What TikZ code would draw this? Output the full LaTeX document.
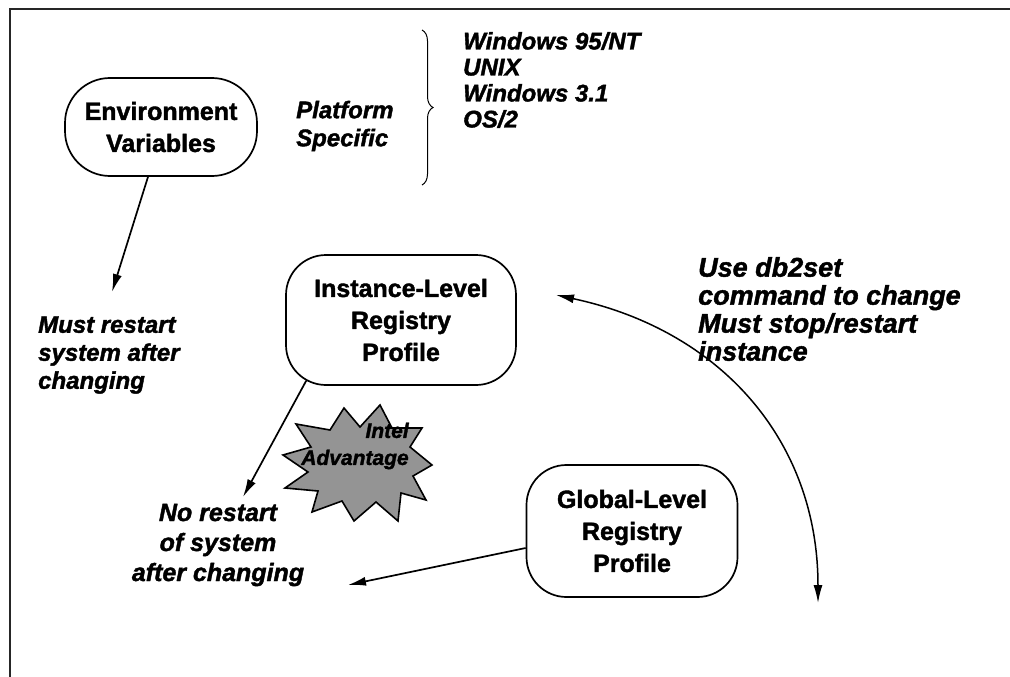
\documentclass[tikz,border=0pt]{standalone}
\usepackage{fontspec}
\setmainfont{Liberation Sans}[BoldFeatures={FakeBold=1.6},BoldItalicFeatures={FakeBold=1.6}]
\usetikzlibrary{arrows.meta,decorations.pathreplacing}
\newcommand{\bxfont}{\fontsize{25}{32}\selectfont\bfseries}
\newcommand{\itfont}{\fontsize{24}{28}\selectfont\bfseries\itshape}
\begin{document}
\begin{tikzpicture}[x=1pt,y=-1pt,
  bx/.style={draw, line width=1.7pt, rounded corners=40pt, align=center, font=\bxfont, inner sep=0pt},
  lbl/.style={font=\itfont, inner sep=0pt},
  arr/.style={line width=1.7pt, -{Latex[length=18pt,width=9pt]}},
  dbl/.style={line width=1.5pt, {Latex[length=18pt,width=9pt]}-{Latex[length=18pt,width=9pt]}}]
\useasboundingbox (0,0) rectangle (1010,677);
% frame
\draw[line width=2pt, black!85] (10,677) -- (10,9) -- (1010,9);
% boxes
\node[bx, minimum width=192pt, minimum height=98pt, rounded corners=45pt] (env) at (161,127) {Environment\\Variables};
\node[bx, minimum width=230pt, minimum height=130pt] (inst) at (401,320) {Instance-Level\\Registry\\Profile};
\node[bx, minimum width=211pt, minimum height=132pt] (glob) at (632,531) {Global-Level\\Registry\\Profile};
% labels
\node[lbl, anchor=west, align=left] (plat) at (296,126) {Platform\\Specific};
\draw[line width=1pt, decorate, decoration={brace, amplitude=11pt}] (422,30) -- (422,185);
\node[lbl, anchor=west, align=left, font=\fontsize{24}{26}\selectfont\bfseries\itshape] (list) at (463,80) {Windows 95/NT\\UNIX\\Windows 3.1\\OS/2};
\node[lbl, anchor=west, align=left] (must) at (38,355) {Must restart\\system after\\changing};
\node[lbl, align=center, font=\fontsize{25}{30}\selectfont\bfseries\itshape] (norest) at (218,545) {No restart\\of system\\after changing};
\node[lbl, anchor=west, align=left, font=\fontsize{27}{28}\selectfont\bfseries\itshape] (use) at (698,309) {Use db2set\\command to change\\Must stop/restart\\instance};
% starburst
\draw[line width=1.6pt, fill=black!42, line join=miter]
  (380,405) -- (392,428) -- (422,428) -- (410,447) -- (432,465) -- (413,476) --
  (426,500) -- (401,493) -- (398,521) -- (376,502) -- (354,521) -- (342,501) --
  (312,512) -- (318,491) -- (285,488) -- (308,472) -- (283,455) -- (311,447) --
  (296,424) -- (330,430) -- (344,408) -- (360,427) -- cycle;
\node[lbl, align=right, font=\fontsize{21}{27}\selectfont\bfseries\itshape] (intel) at (355,446) {Intel\\Advantage};
% connectors
\coordinate (a1) at (112,292);
\coordinate (a2) at (243,497);
\coordinate (a3) at (348,585);
\coordinate (c1) at (556,295);
\coordinate (c2) at (818,603);
\draw[arr] ([xshift=-13pt]env.south) -- (a1);
\draw[arr] ([shift={(21pt,5pt)}]inst.south west) -- (a2);
\draw[arr] ([yshift=-17pt]glob.west) -- (a3);
\draw[dbl] (c1) .. controls (720,330) and (818,440) .. (c2);
\end{tikzpicture}
\end{document}
